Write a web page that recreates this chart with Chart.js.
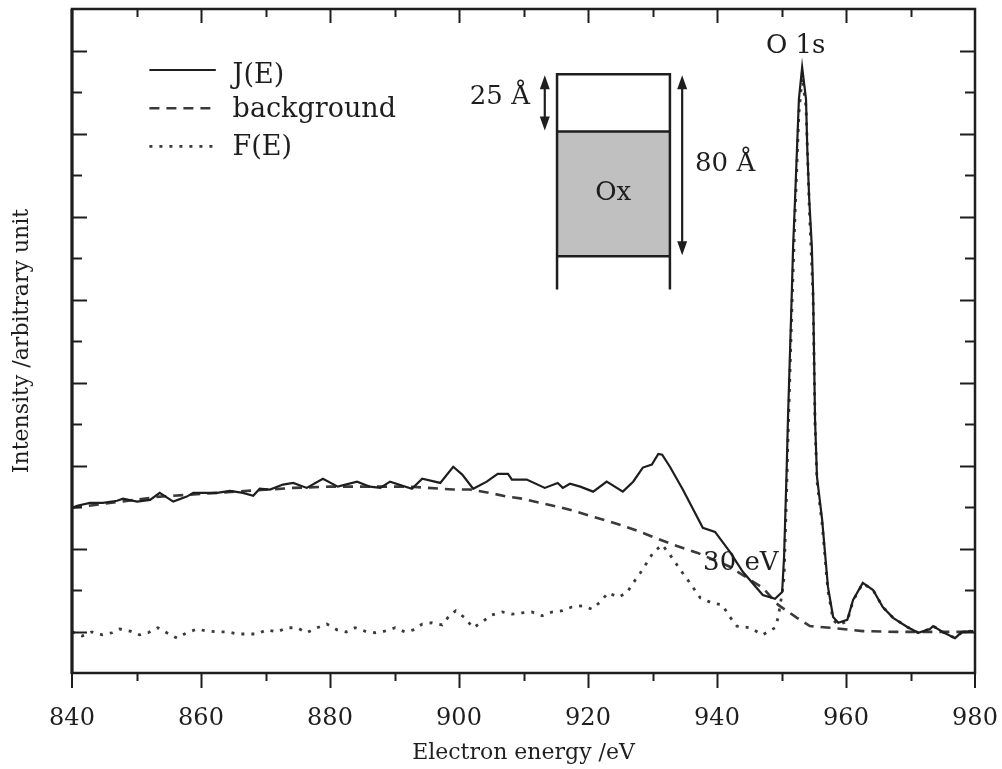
<!DOCTYPE html>
<html>
<head>
<meta charset="utf-8">
<script src="https://cdn.jsdelivr.net/npm/chart.js@4"></script>
<style>
  html, body { margin: 0; padding: 0; background: #ffffff; }
  #wrap { width: 1002px; height: 769px; position: relative; }
</style>
</head>
<body>
<div id="wrap"><canvas id="c"></canvas></div>
<script>
// ---- measured spectrum: J(E) ----
const jEnergy = [
  840.0, 840.8, 842.8, 844.8, 847.0, 847.9, 850.1, 852.1, 853.6, 855.7,
  857.8, 858.8, 860.3, 862.5, 864.5, 866.5, 868.1, 869.1, 870.7, 872.7,
  874.3, 876.4, 878.9, 881.2, 884.2, 886.2, 887.8, 889.3, 892.7, 894.3,
  897.1, 899.1, 900.5, 902.2, 904.3, 906.0, 907.6, 908.2, 910.5, 913.3,
  915.3, 916.1, 917.2, 918.8, 920.8, 922.9, 925.4, 927.0, 928.5, 929.9,
  930.9, 931.5, 932.7, 934.7, 937.8, 939.7, 942.0, 944.0, 947.1, 949.0,
  950.1, 950.4, 950.8, 951.0, 951.6, 951.8, 952.1, 952.4, 952.7, 953.2,
  953.8, 954.0, 954.3, 954.7, 954.9, 955.2, 955.5, 956.3, 957.2, 958.0,
  958.8, 960.2, 961.1, 962.6, 964.2, 965.7, 967.3, 969.5, 971.2, 973.0,
  973.5, 975.0, 976.9, 978.0, 979.7
];
const jIntensity = [
  3.98, 4.03, 4.10, 4.10, 4.15, 4.20, 4.13, 4.17, 4.34, 4.13,
  4.25, 4.34, 4.34, 4.34, 4.39, 4.34, 4.27, 4.44, 4.42, 4.54,
  4.58, 4.46, 4.68, 4.49, 4.61, 4.49, 4.46, 4.61, 4.44, 4.68,
  4.58, 4.97, 4.78, 4.44, 4.61, 4.80, 4.80, 4.66, 4.66, 4.46,
  4.58, 4.46, 4.56, 4.49, 4.37, 4.61, 4.37, 4.61, 4.95, 5.02,
  5.28, 5.26, 4.97, 4.42, 3.50, 3.40, 2.92, 2.44, 1.88, 1.79,
  1.95, 2.80, 4.90, 6.11, 9.17, 10.28, 11.41, 12.62, 13.83, 14.60,
  13.83, 12.62, 11.41, 10.28, 9.17, 6.11, 4.73, 3.69, 2.08, 1.35,
  1.21, 1.28, 1.76, 2.17, 2.00, 1.59, 1.33, 1.11, 0.97, 1.06,
  1.13, 0.99, 0.84, 0.99, 1.01
];

// ---- fitted inelastic background ----
const bgEnergy = [
  840.0, 853.6, 874.3, 880.0, 892.4, 899.1, 901.7, 904.8, 907.4, 909.9,
  912.6, 915.2, 917.7, 920.3, 922.9, 925.4, 928.1, 931.2, 933.8, 936.9,
  942.0, 947.1, 949.5, 952.4, 954.4, 957.5, 962.6, 967.9, 978.1, 980.0
];
const bgIntensity = [
  3.98, 4.25, 4.46, 4.49, 4.49, 4.42, 4.42, 4.34, 4.25, 4.20,
  4.10, 4.01, 3.91, 3.79, 3.67, 3.55, 3.40, 3.21, 3.06, 2.90,
  2.56, 2.05, 1.64, 1.33, 1.13, 1.09, 1.01, 0.99, 0.99, 0.99
];

// ---- background-subtracted spectrum: F(E) ----
const fEnergy = [
  840.0, 841.6, 843.1, 844.7, 846.2, 847.4, 849.0, 850.5, 851.8, 853.3,
  854.7, 856.3, 857.8, 859.4, 860.9, 862.5, 864.2, 865.6, 867.1, 868.7,
  870.2, 871.8, 873.3, 874.9, 876.4, 878.0, 879.5, 881.1, 882.5, 883.9,
  885.4, 887.0, 888.5, 890.1, 891.6, 892.9, 894.3, 895.8, 897.4, 898.6,
  899.5, 900.9, 902.2, 903.6, 905.1, 906.7, 908.2, 909.8, 911.3, 912.9,
  914.4, 916.0, 917.5, 919.1, 920.6, 921.9, 923.1, 924.7, 926.0, 927.0,
  928.1, 929.1, 930.1, 931.5, 932.7, 934.3, 935.8, 937.4, 939.2, 940.8,
  942.0, 943.1, 945.1, 947.1, 949.0, 949.5, 950.1, 950.4, 950.8, 951.0,
  951.6, 952.1, 952.7, 953.2, 953.8, 954.3, 954.9, 955.2, 955.5, 956.3,
  957.2, 958.0, 958.8, 960.2, 961.1, 962.6, 964.2, 965.7, 967.3, 969.5,
  971.2, 973.0, 973.5, 975.0, 976.9, 978.0, 979.7
];
const fIntensity = [
  0.99, 0.89, 0.99, 0.92, 0.97, 1.06, 1.01, 0.92, 0.97, 1.09,
  0.97, 0.84, 0.97, 1.06, 1.01, 0.99, 0.99, 0.94, 0.94, 0.94,
  1.04, 0.99, 1.09, 1.09, 0.97, 1.09, 1.18, 1.04, 0.99, 1.09,
  1.01, 0.97, 1.01, 1.09, 0.99, 1.04, 1.18, 1.21, 1.16, 1.40,
  1.50, 1.33, 1.09, 1.23, 1.40, 1.47, 1.42, 1.45, 1.47, 1.38,
  1.47, 1.50, 1.59, 1.62, 1.54, 1.71, 1.93, 1.83, 1.93, 2.17,
  2.41, 2.65, 2.90, 3.09, 2.85, 2.49, 2.17, 1.81, 1.69, 1.64,
  1.35, 1.13, 1.09, 0.92, 1.09, 1.35, 1.93, 2.30, 4.40, 5.60,
  8.75, 11.05, 13.50, 14.35, 13.65, 11.25, 9.05, 6.00, 4.63, 3.59,
  1.99, 1.28, 1.16, 1.25, 1.74, 2.16, 2.00, 1.59, 1.33, 1.11,
  0.97, 1.06, 1.13, 0.99, 0.84, 0.99, 1.01
];

// ---- axis ranges and tick steps ----
const xMin = 840, xMax = 980, xLabelStep = 20, xTickStep = 10;
const yMin = 0, yMax = 16, yTickStep = 1;

// ---- legend entries ----
const legendLabels = ['J(E)', 'background', 'F(E)'];

// ---- annotation texts ----
const peakLabel = 'O 1s';
const lossLabel = '30 eV';
const layerLabel = 'Ox';
const thinLabel = '25 Å';
const thickLabel = '80 Å';

const FONT = "'DejaVu Serif', 'Liberation Serif', serif";
const INK = '#1e1e1e';

function pts(xs, ys) { return xs.map((x, i) => ({ x: x, y: ys[i] })); }

// Frame, tick marks, legend and the layer sketch, positioned through the chart scales
const decorations = {
  id: 'decorations',
  afterDatasetsDraw(chart) {
    const { ctx, chartArea: a, scales: { x, y } } = chart;
    const X = v => x.getPixelForValue(v);
    const Y = v => y.getPixelForValue(v);
    ctx.save();

    // frame
    ctx.strokeStyle = INK;
    ctx.lineWidth = 2.5;
    ctx.strokeRect(a.left, a.top, a.right - a.left, a.bottom - a.top);
    ctx.lineWidth = 3;
    ctx.beginPath(); ctx.moveTo(a.left, a.top); ctx.lineTo(a.left, a.bottom + 1); ctx.stroke();

    // x ticks: outward at the bottom, inward at the top
    ctx.lineWidth = 2;
    for (let e = xMin + xTickStep; e < xMax; e += xTickStep) {
      const px = Math.round(X(e)) + 0.5;
      const major = (e - xMin) % xLabelStep === 0;
      ctx.beginPath();
      ctx.moveTo(px, a.bottom); ctx.lineTo(px, a.bottom + (major ? 15 : 8));
      ctx.moveTo(px, a.top); ctx.lineTo(px, a.top + (major ? 14 : 8));
      ctx.stroke();
    }
    for (const e of [xMin, xMax]) {
      const px = X(e);
      ctx.beginPath(); ctx.moveTo(px, a.bottom); ctx.lineTo(px, a.bottom + 15); ctx.stroke();
    }
    // y ticks: inward on both sides
    for (let v = yMin + yTickStep; v < yMax; v += yTickStep) {
      const py = Math.round(Y(v)) + 0.5;
      const len = v % 2 === 1 ? 15 : 10;
      ctx.beginPath();
      ctx.moveTo(a.left, py); ctx.lineTo(a.left + len, py);
      ctx.moveTo(a.right, py); ctx.lineTo(a.right - len, py);
      ctx.stroke();
    }

    // legend
    const ds = chart.data.datasets;
    const lineRows = [14.53, 13.61, 12.69];
    const textRows = [14.38, 13.56, 12.64];
    ctx.font = '27px ' + FONT;
    ctx.textBaseline = 'middle';
    ctx.textAlign = 'left';
    ds.forEach((d, i) => {
      const py = Y(lineRows[i]);
      ctx.strokeStyle = d.borderColor;
      ctx.lineWidth = d.borderWidth;
      ctx.setLineDash(d.borderDash || []);
      ctx.beginPath(); ctx.moveTo(X(852.0), py); ctx.lineTo(X(862.3), py); ctx.stroke();
      ctx.setLineDash([]);
      ctx.fillStyle = INK;
      ctx.fillText(legendLabels[i], X(864.9), Y(textRows[i]));
    });

    // layer sketch
    const l = X(915.2), r = X(932.7);
    const top = Y(14.43), mid = Y(13.05), bot = Y(10.04), stub = Y(9.24);
    ctx.fillStyle = '#c0c0c0';
    ctx.fillRect(l, mid, r - l, bot - mid);
    ctx.strokeStyle = INK;
    ctx.lineWidth = 2.5;
    ctx.beginPath();
    ctx.moveTo(l, stub); ctx.lineTo(l, top); ctx.lineTo(r, top); ctx.lineTo(r, stub);
    ctx.moveTo(l, mid); ctx.lineTo(r, mid);
    ctx.moveTo(l, bot); ctx.lineTo(r, bot);
    ctx.stroke();

    function dblArrow(px, y1, y2) {
      const hl = 14, hw = 5;
      ctx.lineWidth = 2.2;
      ctx.beginPath(); ctx.moveTo(px, y1 + hl - 2); ctx.lineTo(px, y2 - hl + 2); ctx.stroke();
      ctx.fillStyle = INK;
      ctx.beginPath(); ctx.moveTo(px, y1); ctx.lineTo(px - hw, y1 + hl); ctx.lineTo(px + hw, y1 + hl); ctx.closePath(); ctx.fill();
      ctx.beginPath(); ctx.moveTo(px, y2); ctx.lineTo(px - hw, y2 - hl); ctx.lineTo(px + hw, y2 - hl); ctx.closePath(); ctx.fill();
    }
    dblArrow(X(913.3), top + 1, mid - 1);
    dblArrow(X(934.6), top + 1, bot - 1);

    ctx.fillStyle = INK;
    ctx.font = '26px ' + FONT;
    ctx.textAlign = 'center';
    ctx.fillText(layerLabel, X(923.9), Y(11.56));
    ctx.textAlign = 'right';
    ctx.fillText(thinLabel, X(911.0), Y(13.88));
    ctx.textAlign = 'left';
    ctx.fillText(thickLabel, X(936.6), Y(12.26));
    ctx.textAlign = 'center';
    ctx.fillText(peakLabel, X(952.2), Y(15.1));
    ctx.fillText(lossLabel, X(943.7), Y(2.65));
    ctx.restore();
  }
};

new Chart(document.getElementById('c'), {
  type: 'line',
  data: {
    datasets: [
      { label: legendLabels[0], data: pts(jEnergy, jIntensity), borderColor: '#1e1e1e', borderWidth: 2.2 },
      { label: legendLabels[1], data: pts(bgEnergy, bgIntensity), borderColor: '#3a3a3a', borderWidth: 2.6, borderDash: [10, 7] },
      { label: legendLabels[2], data: pts(fEnergy, fIntensity), borderColor: '#3a3a3a', borderWidth: 2.8, borderDash: [3, 7] }
    ]
  },
  options: {
    responsive: true,
    maintainAspectRatio: false,
    animation: false,
    devicePixelRatio: 1,
    layout: { padding: { left: 0, right: 27, top: 9, bottom: 0 } },
    elements: { point: { radius: 0 }, line: { tension: 0, fill: false } },
    plugins: { legend: { display: false }, tooltip: { enabled: false } },
    scales: {
      x: {
        type: 'linear', min: xMin, max: xMax,
        grid: { display: false, drawTicks: false }, border: { display: false },
        ticks: { stepSize: xLabelStep, color: INK, padding: 31, font: { family: FONT, size: 24 } },
        title: { display: true, text: 'Electron energy /eV', color: INK, font: { family: FONT, size: 22 }, padding: { top: 0, bottom: 3 } },
        afterFit: s => { s.height = 96; s.paddingLeft = 0; s.paddingRight = 0; }
      },
      y: {
        type: 'linear', min: yMin, max: yMax,
        grid: { display: false, drawTicks: false }, border: { display: false },
        ticks: { display: false, stepSize: yTickStep },
        title: { display: true, text: 'Intensity /arbitrary unit', color: INK, font: { family: FONT, size: 22 }, padding: { top: 9, bottom: 0 } },
        afterFit: s => { s.width = 72; s.paddingTop = 0; s.paddingBottom = 0; }
      }
    }
  },
  plugins: [decorations]
});
</script>
</body>
</html>
